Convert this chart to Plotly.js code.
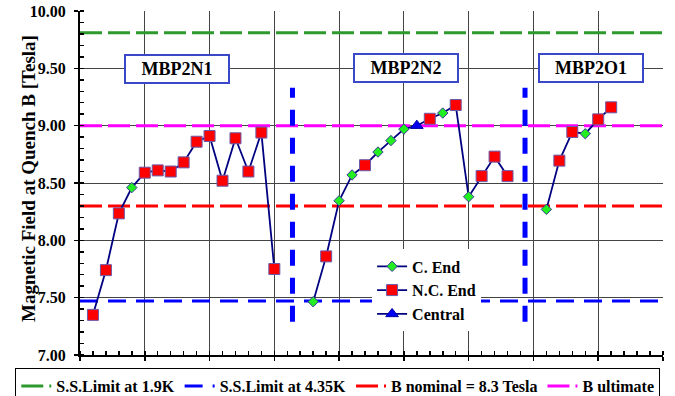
<!DOCTYPE html>
<html>
<head>
<meta charset="utf-8">
<script src="https://cdn.plot.ly/plotly-3.0.1.min.js"></script>
<style>html,body{margin:0;padding:0;background:#fff;}#chart{width:675px;height:396px;}</style>
</head>
<body>
<div id="chart"></div>
<script>
// ---- data ----
const magnetNames = ["MBP2N1", "MBP2N2", "MBP2O1"];
const posN1 = [1,2,3,4,5,6,7,8,9,10,11,12,13,14,15];
const bN1 = [7.35,7.74,8.235,8.46,8.59,8.61,8.60,8.68,8.86,8.91,8.52,8.89,8.60,8.94,7.75];
const typeN1 = ["N","N","N","C","N","N","N","N","N","N","N","N","N","N","N"];
const posN2 = [18,19,20,21,22,23,24,25,26,27,28,29,30,31,32,33];
const bN2 = [7.465,7.86,8.345,8.57,8.655,8.77,8.87,8.97,9.00,9.06,9.11,9.18,8.38,8.56,8.73,8.56];
const typeN2 = ["C","N","C","C","N","C","C","C","T","N","C","N","C","N","N","N"];
const posO1 = [36,37,38,39,40,41];
const bO1 = [8.27,8.695,8.945,8.93,9.055,9.16];
const typeO1 = ["C","N","N","C","N","N"];
const typeNames = {C: "C. End", N: "N.C. End", T: "Central"};
const refNames = ["S.S.Limit at 1.9K", "S.S.Limit at 4.35K", "B nominal = 8.3 Tesla", "B ultimate"];
const refValues = [9.81, 7.47, 8.3, 9.0];
const yTitle = "Magnetic Field at Quench B [Tesla]";

// ---- styles ----
const FONT = "Liberation Serif";
const refStyles = [
  {color: "#2e9a2e", dash: "22px,6px", width: 3},
  {color: "#0000ff", dash: "18px,10px", width: 3},
  {color: "#ff0000", dash: "22px,6px", width: 3},
  {color: "#ff00ff", dash: "22px,6px", width: 3}
];
const markerStyles = {
  C: {symbol: "diamond", size: 8, color: "#22ee22", line: {color: "#3a3a9a", width: 1}},
  N: {symbol: "square", size: 11, color: "#ff0000", line: {color: "#6a5aaa", width: 1}},
  T: {symbol: "triangle-up", size: 11, color: "#0000ee", line: {color: "#0000aa", width: 1}}
};
const NAVY = "#000080";

const traces = [];
refNames.forEach((n, i) => {
  traces.push({
    x: [0, 45], y: [refValues[i], refValues[i]], mode: "lines", name: n,
    line: refStyles[i], legend: "legend2", hoverinfo: "skip"
  });
});
const groups = [[posN1, bN1, typeN1], [posN2, bN2, typeN2], [posO1, bO1, typeO1]];
groups.forEach((g, gi) => {
  traces.push({x: g[0], y: g[1], mode: "lines", line: {color: NAVY, width: 1.8},
    showlegend: false, name: magnetNames[gi]});
});
["C", "N", "T"].forEach(t => {
  const xs = [], ys = [];
  groups.forEach(g => g[2].forEach((tt, k) => { if (tt === t) { xs.push(g[0][k]); ys.push(g[1][k]); } }));
  traces.push({x: xs, y: ys, mode: "markers", marker: markerStyles[t], showlegend: false, name: typeNames[t]});
});
["C", "N", "T"].forEach(t => {
  traces.push({x: [null], y: [null], mode: "lines+markers", name: typeNames[t],
    marker: markerStyles[t], line: {color: NAVY, width: 1.8}, legend: "legend"});
});

const annCenters = [[7.49, 9.494], [25.2, 9.5], [39.48, 9.5]];
const annotations = magnetNames.map((n, i) => ({
  x: annCenters[i][0], y: annCenters[i][1], xref: "x", yref: "y", text: n,
  showarrow: false, font: {family: FONT, size: 18, color: "#000", weight: "bold"},
  bgcolor: "#fff", bordercolor: "#3a48c8", borderwidth: 2, borderpad: 2, width: 98, height: 22
}));
annotations.push({
  xref: "paper", yref: "paper", x: -0.0892, y: 0.5145, xanchor: "center", yanchor: "middle",
  text: yTitle, textangle: -90, showarrow: false,
  font: {family: FONT, size: 19, color: "#000", weight: "bold"}
});

const sepShapes = [16.4, 34.35].map(x => ({
  type: "line", xref: "x", yref: "y", x0: x, x1: x, y0: 7.29, y1: 9.33,
  line: {color: "#0000ff", width: 5, dash: "16px,12px"}
}));

const layout = {
  width: 675, height: 396,
  margin: {l: 80, r: 12, t: 11, b: 41, autoexpand: false},
  paper_bgcolor: "#fff", plot_bgcolor: "#fff",
  font: {family: FONT, size: 16, color: "#000"},
  showlegend: true,
  xaxis: {
    range: [0, 45], dtick: 5, tick0: 0, showticklabels: false,
    ticks: "outside", ticklen: 4, tickwidth: 1.5, tickcolor: "#000",
    showgrid: true, gridcolor: "#444", gridwidth: 1, zeroline: false,
    showline: true, linecolor: "#000", linewidth: 2,
    minor: {dtick: 1, ticks: "inside", ticklen: 4, tickwidth: 1.5, tickcolor: "#000", showgrid: false}
  },
  yaxis: {
    range: [7, 10], dtick: 0.5, tick0: 7, tickformat: ".2f",
    ticks: "outside", ticklen: 4, tickwidth: 1.5, tickcolor: "#000", ticklabelstandoff: 5,
    tickfont: {family: FONT, size: 16, color: "#000", weight: "bold"},
    showgrid: true, gridcolor: "#444", gridwidth: 1, zeroline: false,
    showline: true, linecolor: "#000", linewidth: 2,
    minor: {dtick: 0.1, ticks: "inside", ticklen: 4, tickwidth: 1.5, tickcolor: "#000", showgrid: false}
  },
  legend: {
    x: 0.501, y: 0.307, xanchor: "left", yanchor: "top",
    bgcolor: "#fff", borderwidth: 0, itemwidth: 30,
    font: {family: FONT, size: 16, color: "#000", weight: "bold"}, tracegroupgap: 0
  },
  legend2: {
    orientation: "h", x: -0.111, y: -0.038, xanchor: "left", yanchor: "top",
    bgcolor: "#fff", bordercolor: "#000", borderwidth: 1, itemwidth: 30,
    font: {family: FONT, size: 16, color: "#000", weight: "bold"}
  },
  annotations: annotations,
  shapes: sepShapes
};

Plotly.newPlot("chart", traces, layout, {displayModeBar: false, staticPlot: true});
</script>
</body>
</html>
